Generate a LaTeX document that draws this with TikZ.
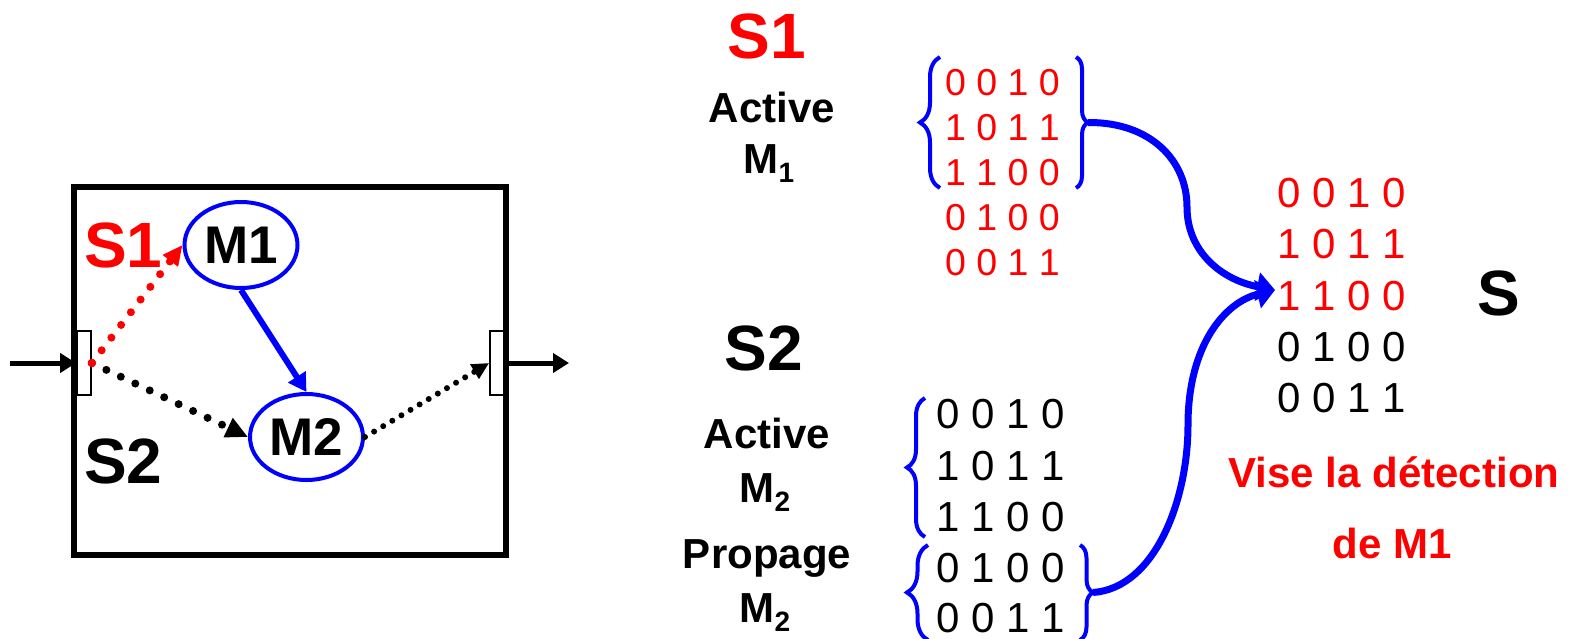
\documentclass[tikz,border=0pt]{standalone}
\usepackage{fontspec}
\setmainfont{Liberation Sans}
\usetikzlibrary{arrows.meta,shapes.geometric,decorations.pathreplacing}
\definecolor{myred}{RGB}{255,0,0}
\definecolor{myblue}{RGB}{0,0,255}
\newcommand{\myfs}[1]{\fontsize{#1}{#1}\selectfont}
\newcommand{\subM}[1]{M\raisebox{-9pt}{\myfs{28}#1}}
\begin{document}
\begin{tikzpicture}[x=1pt,y=-1pt,
  lbl/.style={inner sep=0pt, anchor=base, font=\bfseries\myfs{42}},
  bigl/.style={inner sep=0pt, anchor=base, font=\bfseries\myfs{64}},
  row/.style={inner sep=0pt, anchor=base west, font=\myfs{42}},
  rowsm/.style={inner sep=0pt, anchor=base west, font=\myfs{37.5}},
  mod/.style={draw=myblue, line width=4pt, ellipse, inner sep=0pt, minimum width=113pt, minimum height=86pt, font=\bfseries\myfs{53}},
  port/.style={draw, line width=1.8pt, inner sep=0pt, minimum width=14pt, minimum height=64pt},
  brc/.style={draw=myblue, line width=4pt, decorate, decoration={brace, amplitude=#1}},
  bigarr/.style={draw=myblue, line width=7pt, -{Triangle[length=18pt,width=28pt]}},
  dots/.style={line width=8pt, line cap=round, dash pattern=on 0pt off 16pt}
]
\useasboundingbox (0,0) rectangle (1580,638);

% ---------- left block ----------
\draw[line width=5.5pt] (74,187) rectangle (506,555);
\node[port] (lport) at (84,363) {};
\node[port] (rport) at (497,363) {};
\coordinate (in) at (10,363);
\coordinate (out) at (569,363);
\draw[line width=5pt, -{Triangle[length=16pt,width=19pt]}] (in) -- (lport.west);
\draw[line width=5pt, -{Triangle[length=16pt,width=19pt]}] (rport.east) -- (out);

\node[mod] (M1) at (241,245) {M1};
\node[mod] (M2) at (306.5,437) {M2};

\node[inner sep=0pt, anchor=base west, font=\bfseries\myfs{64}, text=myred] (s1in) at (84,267) {S1};
\node[inner sep=0pt, anchor=base west, font=\bfseries\myfs{64}] (s2in) at (84,483) {S2};

\draw[dots, myred, -{Triangle[length=20pt,width=18pt]}] (lport.east) -- (M1.west);
\draw[dots, -{Triangle[length=22pt,width=20pt]}] (lport.east) -- (M2.west);
\draw[line width=6pt, dash pattern=on 0pt off 10.6pt, line cap=round, -{Triangle[length=17pt,width=16pt]}] (M2.east) -- (rport.west);
\fill[myred] (lport.east) circle (4.2pt);
\draw[myblue, line width=6pt, -{Triangle[length=18pt,width=20pt]}] (M1.south) -- (M2.north);

% ---------- S1 column ----------
\node[bigl, text=myred] (S1t) at (767,58) {S1};
\node[lbl] (act1) at (772,122) {Active};
\node[lbl] (m1) at (769,173) {\subM{1}};

\node[rowsm, text=myred] (t1) at (945,95) {0 0 1 0};
\node[rowsm, text=myred] (t2) at (945,140) {1 0 1 1};
\node[rowsm, text=myred] (t3) at (945,185) {1 1 0 0};
\node[rowsm, text=myred] (t4) at (945,230) {0 1 0 0};
\node[rowsm, text=myred] (t5) at (945,275) {0 0 1 1};
\draw[brc=20pt] (940,188) -- (940,57);
\draw[brc=12pt] (1076,57) -- (1076,188);
\coordinate (tb) at (1088,122.5);

% ---------- S2 column ----------
\node[bigl] (S2t) at (764,370) {S2};
\node[lbl] (act2) at (767,448) {Active};
\node[lbl] (m2a) at (765,502) {\subM{2}};
\node[lbl] (prop) at (767,568) {Propage};
\node[lbl] (m2b) at (765,622) {\subM{2}};

\node[row] (b1) at (936,428) {0 0 1 0};
\node[row] (b2) at (936,480) {1 0 1 1};
\node[row] (b3) at (936,531) {1 1 0 0};
\node[row] (b4) at (936,582) {0 1 0 0};
\node[row] (b5) at (936,632) {0 0 1 1};
\draw[brc=18pt] (925,537) -- (925,398);
\draw[brc=21pt] (928,640) -- (928,545);
\draw[brc=13pt] (1080,545) -- (1080,640);
\coordinate (bb) at (1093,592.5);

% ---------- result S ----------
\node[row, text=myred] (s1) at (1277,207) {0 0 1 0};
\node[row, text=myred] (s2) at (1277,258) {1 0 1 1};
\node[row, text=myred] (s3) at (1277,310) {1 1 0 0};
\node[row] (s4) at (1277,361) {0 1 0 0};
\node[row] (s5) at (1277,412) {0 0 1 1};
\node[bigl] (Sres) at (1499,315) {S};
\node[lbl, text=myred] (vise) at (1394,487) {Vise la détection};
\node[lbl, text=myred] (deM) at (1392,558) {de M1};

\coordinate (tip) at (1275,290);
\draw[bigarr] (tb) .. controls (1150,122) and (1187,160) .. (1187,207)
  .. controls (1187,252) and (1222,280) .. (tip);
\draw[bigarr] (bb) .. controls (1155,588) and (1188,500) .. (1188,425)
  .. controls (1188,345) and (1225,302) .. (tip);
\end{tikzpicture}
\end{document}
